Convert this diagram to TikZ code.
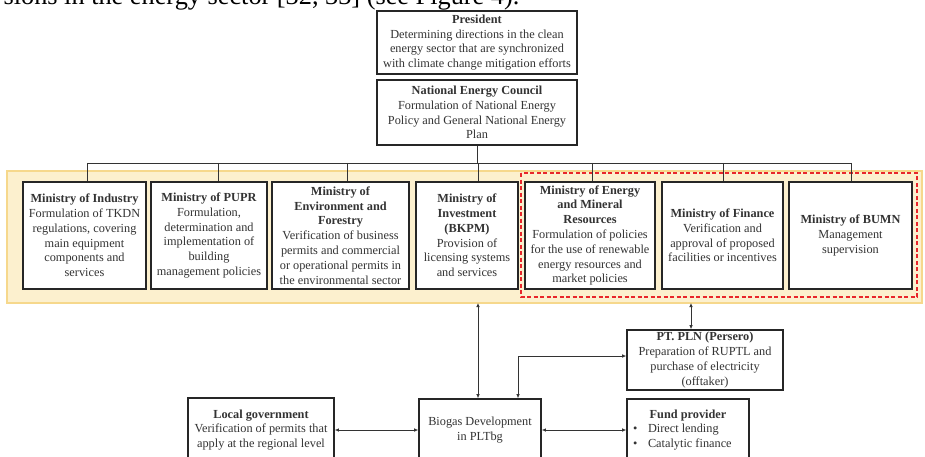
\documentclass[tikz,border=0pt]{standalone}
\usepackage{fontspec}
\setmainfont{Liberation Serif}
\usetikzlibrary{arrows.meta}
\definecolor{bandfill}{HTML}{FCF0CE}
\definecolor{bandline}{HTML}{F6D88C}
\definecolor{redline}{HTML}{E8262B}

\begin{document}
\begin{tikzpicture}[x=1pt, y=-1pt, >={Latex[length=4pt,width=3.5pt]},
  box/.style={draw=black!85, line width=1.6pt, fill=white, align=center, inner sep=2pt, text=black!80, font=\fontsize{12.3}{14.8}\selectfont},
  link/.style={draw=black!80, line width=0.7pt}]
  \useasboundingbox (0,0) rectangle (925,457);
  \clip (0,0) rectangle (925,457);
  \node[anchor=base east, font=\fontsize{26.3}{30}\selectfont] (cap) at (523,5) {sions in the energy sector [32, 33] (see Figure 4).};
  % top of the hierarchy
  \node[box, minimum width=200, minimum height=63] (pres) at (477,42.5) {\textbf{President}\\Determining directions in the clean\\energy sector that are synchronized\\with climate change mitigation efforts};
  \node[box, minimum width=200, minimum height=65] (nec) at (477,112.5) {\textbf{National Energy Council}\\Formulation of National Energy\\Policy and General National Energy\\Plan};
  % ministries band
  \draw[fill=bandfill, draw=bandline, line width=1.2pt] (7,171) rectangle (922,303);
  \draw[redline, line width=1.4pt, dash pattern=on 4pt off 2.5pt] (521,173) rectangle (917,297);
  \node[box, minimum width=123, minimum height=107] (ind) at (84.5,235.5) {\textbf{Ministry of Industry}\\Formulation of TKDN\\regulations, covering\\main equipment\\components and\\services};
  \node[box, minimum width=116, minimum height=107] (pupr) at (209,235.5) {\textbf{Ministry of PUPR}\\Formulation,\\determination and\\implementation of\\building\\management policies};
  \node[box, minimum width=137, minimum height=107] (env) at (340.5,235.5) {\textbf{Ministry of}\\\textbf{Environment and}\\\textbf{Forestry}\\Verification of business\\permits and commercial\\or operational permits in\\the environmental sector};
  \node[box, minimum width=102, minimum height=107] (inv) at (467,235.5) {\textbf{Ministry of}\\\textbf{Investment}\\\textbf{(BKPM)}\\Provision of\\licensing systems\\and services};
  \node[box, minimum width=130, minimum height=107] (emr) at (590,235.5) {\textbf{Ministry of Energy}\\\textbf{and Mineral}\\\textbf{Resources}\\Formulation of policies\\for the use of renewable\\energy resources and\\market policies};
  \node[box, minimum width=121, minimum height=107] (fin) at (722.5,235.5) {\textbf{Ministry of Finance}\\Verification and\\approval of proposed\\facilities or incentives};
  \node[box, minimum width=123, minimum height=107] (bumn) at (850.5,235.5) {\textbf{Ministry of BUMN}\\Management\\supervision};
  \draw[link] (nec.south) -- (477,163);
  \draw[link] (87,163) -- (851,163);
  \foreach \n/\x in {ind/87, pupr/218, env/347, inv/478, emr/592, fin/723, bumn/851} {
    \coordinate (t\n) at (\x,163);
    \draw[link] (t\n) -- (t\n |- \n.north);
  }
  % lower actors
  \node[box, minimum width=156, minimum height=60] (pln) at (705,360) {\textbf{PT. PLN (Persero)}\\Preparation of RUPTL and\\purchase of electricity\\(offtaker)};
  \node[box, minimum width=146, minimum height=64] (loc) at (261,430) {\textbf{Local government}\\Verification of permits that\\apply at the regional level};
  \node[box, minimum width=122, minimum height=62] (bio) at (480,430) {Biogas Development\\in PLTbg};
  \node[box, minimum width=122, minimum height=62] (fund) at (688,430) {\textbf{Fund provider}\\\makebox[110pt][l]{\makebox[15pt][l]{\textbullet}Direct lending}\\\makebox[110pt][l]{\makebox[15pt][l]{\textbullet}Catalytic finance}};
  \coordinate (b1) at (478,303);
  \coordinate (b2) at (691,303);
  \draw[link, <->] (b1) -- (b1 |- bio.north);
  \draw[link, <->] (b2) -- (b2 |- pln.north);
  \draw[link, <->] ([xshift=38]bio.north) |- ([yshift=4]pln.west);
  \draw[link, <->] (loc.east) -- (bio.west);
  \draw[link, <->] (bio.east) -- (fund.west);
\end{tikzpicture}
\end{document}
